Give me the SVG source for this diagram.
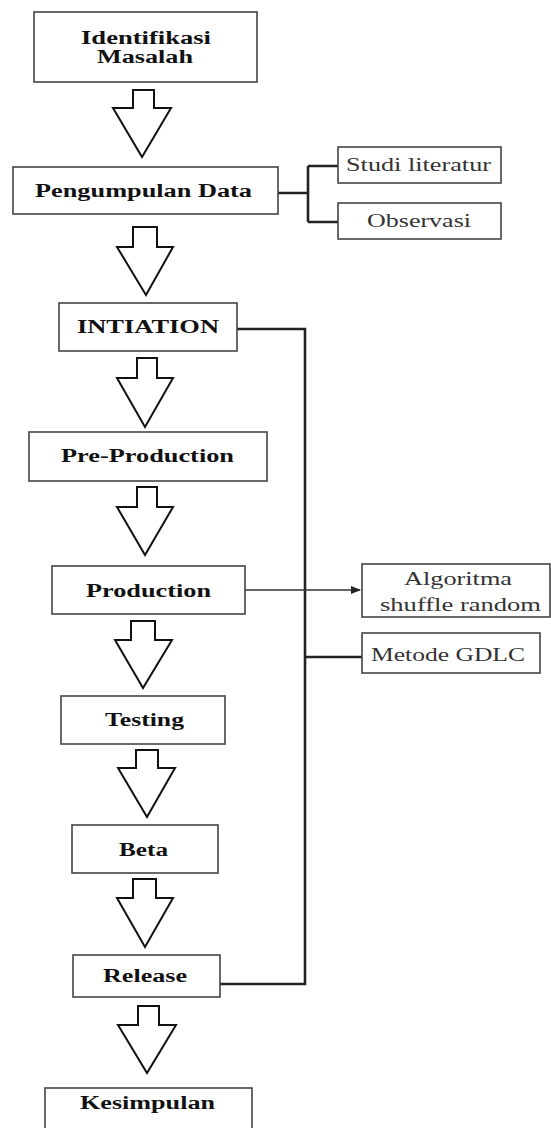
<svg xmlns="http://www.w3.org/2000/svg" width="551" height="1128" viewBox="0 0 551 1128">
<defs>
<style>
.box{fill:#fff;stroke:#444;stroke-width:1.6}
.arr{fill:#fff;stroke:#111;stroke-width:2;stroke-linejoin:miter}
.b{font-family:"Liberation Serif","Times New Roman",serif;font-weight:bold;font-size:18px;fill:#111}
.r{font-family:"Liberation Serif","Times New Roman",serif;font-size:18px;fill:#333}
.con{fill:none;stroke:#222;stroke-width:2.6}
.thin{fill:none;stroke:#333;stroke-width:1.5}
</style>
<marker id="ah" markerWidth="10" markerHeight="8" refX="9" refY="4" orient="auto" markerUnits="userSpaceOnUse">
<path d="M0,0 L10,4 L0,8 Z" fill="#222"/>
</marker>
</defs>
<rect width="551" height="1128" fill="#fff"/>

<g id="connectors">
<path class="con" d="M278,193 H308 M308,166 V222 M308,166 H338 M308,222 H338"/>
<path class="con" d="M237,329 H305 V984 H220"/>
<path class="con" d="M305,657 H362"/>
<path class="thin" d="M245,590 H360" marker-end="url(#ah)"/>
<path class="arr" d="M133,90 H154 V108 H171 L142,157 L113,108 H133 Z"/>
<path class="arr" d="M133,227 H157 V247 H173 L146,295 L117,247 H133 Z"/>
<path class="arr" d="M137,358 H157 V378 H173 L145,427 L117,378 H137 Z"/>
<path class="arr" d="M137,487 H157 V507 H173 L145,555 L117,507 H137 Z"/>
<path class="arr" d="M131,621 H155 V640 H172 L143,688 L115,640 H131 Z"/>
<path class="arr" d="M136,750 H158 V768 H175 L147,817 L118,768 H136 Z"/>
<path class="arr" d="M133,879 H156 V898 H173 L145,947 L117,898 H133 Z"/>
<path class="arr" d="M138,1006 H159 V1025 H176 L147,1073 L118,1025 H138 Z"/>
</g>

<g id="identifikasi">
<rect class="box" x="34" y="12" width="223" height="70"/>
<text class="b" x="81" y="44" textLength="130" lengthAdjust="spacingAndGlyphs">Identifikasi</text>
<text class="b" x="97" y="63" textLength="96" lengthAdjust="spacingAndGlyphs">Masalah</text>
</g>
<g id="pengumpulan">
<rect class="box" x="13" y="167" width="265" height="47"/>
<text class="b" x="35" y="197" textLength="217" lengthAdjust="spacingAndGlyphs">Pengumpulan Data</text>
</g>
<g id="studi">
<rect class="box" x="338" y="147" width="163" height="36"/>
<text class="r" x="346" y="171" textLength="145" lengthAdjust="spacingAndGlyphs">Studi literatur</text>
</g>
<g id="observasi">
<rect class="box" x="338" y="203" width="163" height="36"/>
<text class="r" x="367" y="227" textLength="104" lengthAdjust="spacingAndGlyphs">Observasi</text>
</g>
<g id="intiation">
<rect class="box" x="59" y="303" width="178" height="48"/>
<text class="b" x="77" y="333" textLength="142" lengthAdjust="spacingAndGlyphs">INTIATION</text>
</g>
<g id="preproduction">
<rect class="box" x="29" y="432" width="238" height="49"/>
<text class="b" x="61" y="462" textLength="173" lengthAdjust="spacingAndGlyphs">Pre-Production</text>
</g>
<g id="production">
<rect class="box" x="52" y="566" width="193" height="48"/>
<text class="b" x="86" y="597" textLength="125" lengthAdjust="spacingAndGlyphs">Production</text>
</g>
<g id="algoritma">
<rect class="box" x="362" y="564" width="188" height="53"/>
<text class="r" x="404" y="585" textLength="108" lengthAdjust="spacingAndGlyphs">Algoritma</text>
<text class="r" x="380" y="611" textLength="161" lengthAdjust="spacingAndGlyphs">shuffle random</text>
</g>
<g id="gdlc">
<rect class="box" x="362" y="633" width="178" height="40"/>
<text class="r" x="371" y="661" textLength="154" lengthAdjust="spacingAndGlyphs">Metode GDLC</text>
</g>
<g id="testing">
<rect class="box" x="61" y="696" width="164" height="48"/>
<text class="b" x="105" y="726" textLength="79" lengthAdjust="spacingAndGlyphs">Testing</text>
</g>
<g id="beta">
<rect class="box" x="72" y="825" width="146" height="48"/>
<text class="b" x="119" y="856" textLength="49" lengthAdjust="spacingAndGlyphs">Beta</text>
</g>
<g id="release">
<rect class="box" x="73" y="955" width="147" height="42"/>
<text class="b" x="103" y="982" textLength="84" lengthAdjust="spacingAndGlyphs">Release</text>
</g>
<g id="kesimpulan">
<rect class="box" x="45" y="1088" width="207" height="60"/>
<text class="b" x="80" y="1109" textLength="135" lengthAdjust="spacingAndGlyphs">Kesimpulan</text>
</g>
</svg>
